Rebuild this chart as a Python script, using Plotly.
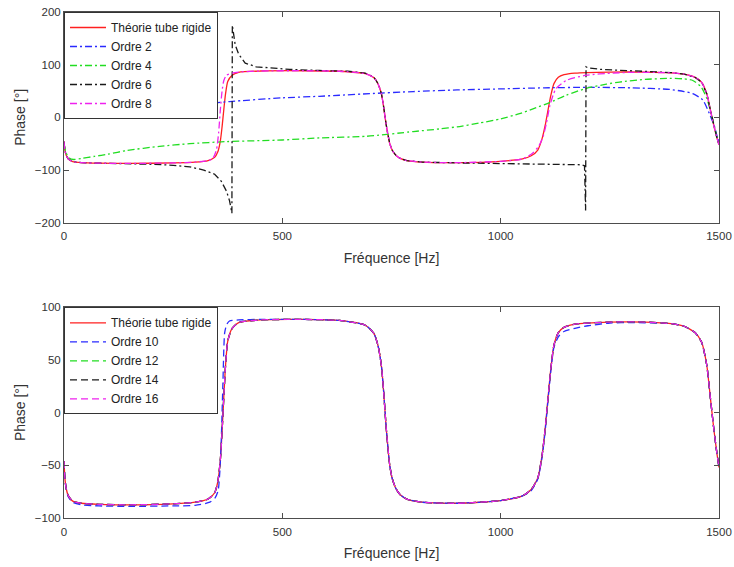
import plotly.graph_objects as go

# ---------------- data ----------------
freq_theorie = [0, 2, 5, 10, 20, 40, 80, 150, 250, 300,
                330, 345, 352, 358, 362, 366, 370, 375, 385, 400,
                450, 550, 630, 690, 710, 720, 727, 732, 738, 746,
                752, 760, 770, 785, 820, 900, 1000, 1050, 1070, 1085,
                1095, 1102, 1108, 1115, 1122, 1132, 1145, 1170, 1250, 1330,
                1390, 1420, 1445, 1460, 1472, 1480, 1488, 1495, 1500]
theorie = [-46, -62, -72, -79, -84, -86, -87, -87.5, -86.5, -85,
           -82, -76, -66, -45, -18, 15, 45, 68, 80, 85.5,
           88, 88.5, 87.5, 83, 75, 62, 44, 20, -15, -50,
           -63, -72, -78, -82, -85, -86, -83.5, -79, -73, -62,
           -40, -15, 12, 42, 64, 76, 81, 84, 86, 86,
           84.5, 82, 76, 67, 45, 15, -15, -38, -52]

freq_o2 = [0, 50, 100, 200, 288, 379, 500, 585, 631, 700,
           800, 900, 1000, 1100, 1200, 1300, 1387, 1420, 1440, 1463,
           1478, 1490, 1497, 1500]
ordre2 = [0, 5, 9, 16, 23, 30, 37, 40, 42, 45,
          49, 52, 54, 56, 57, 56, 53, 49, 45, 33,
          7, -18, -40, -45]

freq_o4 = [0, 5, 12, 22, 40, 70, 100, 143, 219, 288,
           372, 500, 585, 692, 800, 860, 900, 950, 1000, 1043,
           1074, 1112, 1150, 1196, 1242, 1272, 1330, 1387, 1420, 1440,
           1459, 1472, 1486, 1497, 1500]
ordre4 = [-50, -68, -77, -80, -78, -74, -70, -63, -55, -50,
          -46, -43, -39, -36, -27, -22, -18, -11, -3, 7,
          16, 28, 42, 55, 63, 67, 72, 74, 73, 70,
          58, 36, -5, -45, -52]

freq_o6 = [0, 2, 5, 10, 20, 40, 80, 150, 200, 250,
           288, 320, 345, 360, 372, 379, 383, 384.5, 385.5, 388,
           392, 400, 415, 440, 480, 517, 585, 650, 690, 710,
           720, 727, 732, 738, 746, 752, 760, 770, 785, 820,
           900, 1000, 1100, 1160, 1185, 1192, 1194.5, 1195.5, 1200, 1230,
           1300, 1390, 1420, 1445, 1460, 1472, 1480, 1488, 1495, 1500]
ordre6 = [-46, -62, -72, -79, -84, -86, -87, -88, -89, -91,
          -94, -100, -108, -121, -140, -158, -172, -182, 175, 160,
          138, 120, 103, 96, 93, 91, 89, 87.5, 84, 76,
          63, 45, 20, -15, -50, -63, -72, -78, -82, -85,
          -86.5, -87.5, -88.5, -89, -90, -92, -177, 96, 94, 91,
          88, 85, 82, 76, 67, 45, 15, -15, -38, -52]

freq_o8 = [0, 2, 5, 10, 20, 40, 80, 150, 250, 300,
           330, 340, 349, 354, 358, 362, 366, 372, 385, 400,
           450, 550, 630, 690, 710, 720, 727, 732, 738, 746,
           752, 760, 770, 785, 820, 900, 1000, 1050, 1073, 1087,
           1097, 1105, 1112, 1120, 1127, 1150, 1196, 1257, 1300, 1390,
           1420, 1445, 1460, 1472, 1480, 1488, 1495, 1500]
ordre8 = [-46, -62, -72, -79, -84, -86, -87, -87.5, -86.5, -85,
          -82, -79, -62, -30, 14, 50, 70, 80, 84, 86,
          88, 88.5, 87.5, 83, 75, 62, 44, 20, -15, -50,
          -63, -72, -78, -82, -85, -86, -83.5, -79, -68, -55,
          -37, -10, 20, 42, 55, 70, 80, 84, 85.5, 84.5,
          82, 76, 67, 45, 15, -15, -38, -52]

freq_o10 = [0, 2, 5, 10, 20, 40, 80, 150, 250, 300,
            334, 346, 353, 357, 360, 364, 368, 373, 379, 400,
            450, 550, 630, 690, 710, 720, 727, 732, 738, 746,
            752, 760, 770, 785, 820, 900, 1000, 1050, 1070, 1085,
            1095, 1102, 1108, 1115, 1122, 1132, 1145, 1170, 1200, 1250,
            1300, 1390, 1420, 1445, 1460, 1472, 1480, 1488, 1495, 1500]
ordre10 = [-46, -62, -72, -80, -85, -87.5, -88.5, -89, -88.5, -88,
           -85, -81, -74, -55, -28, 29, 76, 84, 87, 88,
           88.5, 88.5, 87.5, 83, 75, 62, 44, 20, -15, -50,
           -63, -72, -78, -82, -85, -86, -83.5, -79, -74, -63,
           -42, -17, 10, 40, 62, 72, 77, 80, 82.5, 85,
           85.5, 84.5, 82, 76, 67, 45, 15, -15, -38, -52]

ordre12 = [-46, -62, -72, -79, -84, -86, -87, -87.5, -86.5, -85,
           -82, -76, -66, -45, -18, 15, 45, 68, 80, 85.5,
           88, 88.5, 87.5, 83, 75, 62, 44, 20, -15, -50,
           -63, -72, -78, -82, -85, -86, -83.5, -79, -73, -62,
           -40, -15, 12, 42, 64, 76, 81, 84, 86, 86,
           84.5, 82, 76, 67, 45, 15, -15, -38, -52]
ordre14 = [-46, -62, -72, -79, -84, -86, -87, -87.5, -86.5, -85,
           -82, -76, -66, -45, -18, 15, 45, 68, 80, 85.5,
           88, 88.5, 87.5, 83, 75, 62, 44, 20, -15, -50,
           -63, -72, -78, -82, -85, -86, -83.5, -79, -73, -62,
           -40, -15, 12, 42, 64, 76, 81, 84, 86, 86,
           84.5, 82, 76, 67, 45, 15, -15, -38, -52]
ordre16 = [-46, -62, -72, -79, -84, -86, -87, -87.5, -86.5, -85,
           -82, -76, -66, -45, -18, 15, 45, 68, 80, 85.5,
           88, 88.5, 87.5, 83, 75, 62, 44, 20, -15, -50,
           -63, -72, -78, -82, -85, -86, -83.5, -79, -73, -62,
           -40, -15, 12, 42, 64, 76, 81, 84, 86, 86,
           84.5, 82, 76, 67, 45, 15, -15, -38, -52]

x_ticks = [0, 500, 1000, 1500]
y1_ticks = [-200, -100, 0, 100, 200]
y2_ticks = [-100, -50, 0, 50, 100]

# ---------------- styling ----------------
FONT = "Liberation Sans, Arial, Helvetica, sans-serif"
RED = "#ff2020"
BLUE = "#2a2aff"
GREEN = "#22dd22"
BLACK = "#1a1a1a"
MAGENTA = "#ee22ee"
DASHDOT = "7px,3px,2px,3px"
DASHED = "7px,4px"
LW = 1.3

fig = go.Figure()

def add(x, y, name, color, dash, xa, ya, legend, shape="spline"):
    fig.add_trace(go.Scatter(
        x=x, y=y, name=name, mode="lines",
        line=dict(color=color, width=LW, dash=dash, shape=shape,
                  smoothing=0.6 if shape == "spline" else None),
        xaxis=xa, yaxis=ya, legend=legend))

# top chart
add(freq_theorie, theorie, "Théorie tube rigide", RED, "solid", "x", "y", "legend")
add(freq_o2, ordre2, "Ordre 2", BLUE, DASHDOT, "x", "y", "legend")
add(freq_o4, ordre4, "Ordre 4", GREEN, DASHDOT, "x", "y", "legend")
add(freq_o6, ordre6, "Ordre 6", BLACK, DASHDOT, "x", "y", "legend", shape="linear")
add(freq_o8, ordre8, "Ordre 8", MAGENTA, DASHDOT, "x", "y", "legend")

# bottom chart
add(freq_theorie, theorie, "Théorie tube rigide", RED, "solid", "x2", "y2", "legend2")
add(freq_o10, ordre10, "Ordre 10", BLUE, DASHED, "x2", "y2", "legend2")
add(freq_theorie, ordre12, "Ordre 12", GREEN, DASHED, "x2", "y2", "legend2")
add(freq_theorie, ordre14, "Ordre 14", BLACK, DASHED, "x2", "y2", "legend2")
add(freq_theorie, ordre16, "Ordre 16", MAGENTA, DASHED, "x2", "y2", "legend2")

AXCOL = "#4d4d4d"
common_ax = dict(showline=True, linecolor=AXCOL, linewidth=1, mirror="ticks",
                 ticks="inside", ticklen=5, tickcolor=AXCOL, showgrid=False,
                 zeroline=False, automargin=False,
                 tickfont=dict(family=FONT, size=11.5, color="#333333"))

xtitle = dict(text="Fréquence [Hz]", font=dict(family=FONT, size=14, color="#333333"),
              standoff=11)
ytitle = dict(text="Phase [°]", font=dict(family=FONT, size=14, color="#333333"),
              standoff=5)

TOP_DOM = [0.5836, 1.0]
BOT_DOM = [0.0, 0.4164]

fig.update_layout(
    width=734, height=567,
    margin=dict(l=64, r=15, t=12, b=49, autoexpand=False),
    paper_bgcolor="white", plot_bgcolor="white",
    font=dict(family=FONT, color="#333333"),
    xaxis=dict(domain=[0, 1], anchor="y", range=[0, 1500], tickvals=x_ticks,
               title=xtitle, ticklabelstandoff=3, **common_ax),
    yaxis=dict(domain=TOP_DOM, anchor="x", range=[-200, 200], tickvals=y1_ticks,
               title=ytitle, **common_ax),
    xaxis2=dict(domain=[0, 1], anchor="y2", range=[0, 1500], tickvals=x_ticks,
                title=xtitle, ticklabelstandoff=3, **common_ax),
    yaxis2=dict(domain=BOT_DOM, anchor="x2", range=[-100, 100], tickvals=y2_ticks,
                title=ytitle, **common_ax),
    legend=dict(x=0, y=TOP_DOM[1], xanchor="left", yanchor="top",
                bgcolor="white", bordercolor="#333333", borderwidth=1,
                font=dict(family=FONT, size=12, color="#222222"),
                itemwidth=36, tracegroupgap=0),
    legend2=dict(x=0, y=BOT_DOM[1], xanchor="left", yanchor="top",
                 bgcolor="white", bordercolor="#333333", borderwidth=1,
                 font=dict(family=FONT, size=12, color="#222222"),
                 itemwidth=36, tracegroupgap=0),
    showlegend=True,
)

fig.write_html(
    "out.html",
    config={"displayModeBar": False},
    post_script="document.body.style.margin='0';document.body.style.padding='0';",
)
